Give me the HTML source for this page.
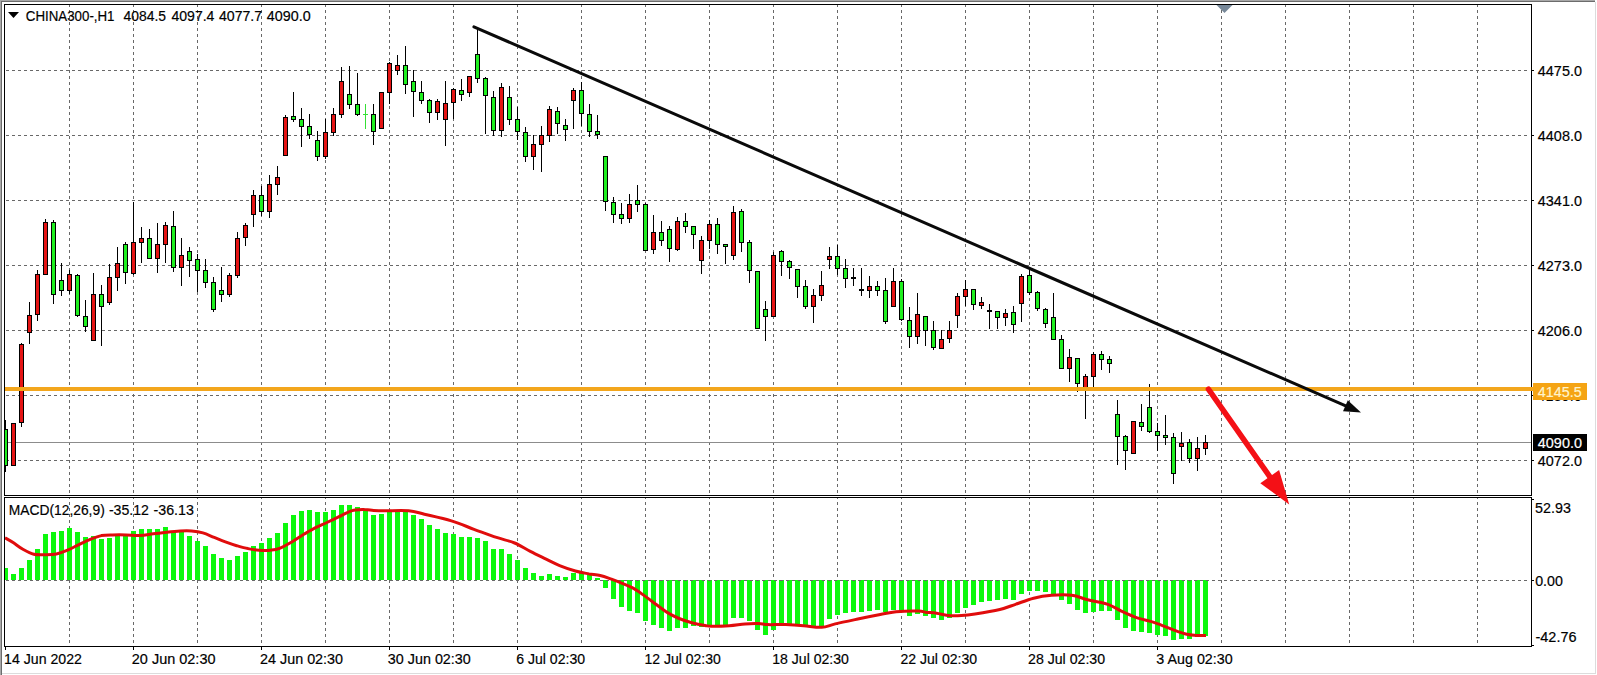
<!DOCTYPE html>
<html lang="en"><head><meta charset="utf-8"><title>CHINA300-,H1</title><style>html,body{margin:0;padding:0;background:#fff;overflow:hidden}svg text{white-space:pre}</style></head><body>
<svg width="1597" height="675" viewBox="0 0 1597 675" style="display:block">
<rect width="1597" height="675" fill="#fff"/>
<g shape-rendering="crispEdges">
<rect x="0" y="0" width="1595" height="1" fill="#a8a8a8"/>
<rect x="0" y="1" width="1595" height="1" fill="#6c6c6c"/>
<rect x="0" y="0" width="1" height="675" fill="#a8a8a8"/>
<rect x="1" y="1" width="1" height="675" fill="#6c6c6c"/>
<rect x="1595" y="2" width="1" height="672" fill="#dcdcdc"/>
<rect x="2" y="673" width="1594" height="1" fill="#dcdcdc"/>
<defs><clipPath id="cm"><rect x="5" y="5" width="1525" height="490"/></clipPath><clipPath id="cd"><rect x="5" y="498" width="1525" height="148"/></clipPath><clipPath id="call"><rect x="5" y="5" width="1526" height="641"/></clipPath></defs>
<g stroke="#686868" stroke-width="1" stroke-dasharray="3 3" fill="none">
<g clip-path="url(#cm)">
<line x1="69.5" y1="4" x2="69.5" y2="496"/>
<line x1="133.5" y1="4" x2="133.5" y2="496"/>
<line x1="197.5" y1="4" x2="197.5" y2="496"/>
<line x1="261.5" y1="4" x2="261.5" y2="496"/>
<line x1="325.5" y1="4" x2="325.5" y2="496"/>
<line x1="389.5" y1="4" x2="389.5" y2="496"/>
<line x1="453.5" y1="4" x2="453.5" y2="496"/>
<line x1="517.5" y1="4" x2="517.5" y2="496"/>
<line x1="581.5" y1="4" x2="581.5" y2="496"/>
<line x1="645.5" y1="4" x2="645.5" y2="496"/>
<line x1="709.5" y1="4" x2="709.5" y2="496"/>
<line x1="773.5" y1="4" x2="773.5" y2="496"/>
<line x1="837.5" y1="4" x2="837.5" y2="496"/>
<line x1="901.5" y1="4" x2="901.5" y2="496"/>
<line x1="965.5" y1="4" x2="965.5" y2="496"/>
<line x1="1029.5" y1="4" x2="1029.5" y2="496"/>
<line x1="1093.5" y1="4" x2="1093.5" y2="496"/>
<line x1="1157.5" y1="4" x2="1157.5" y2="496"/>
<line x1="1221.5" y1="4" x2="1221.5" y2="496"/>
<line x1="1285.5" y1="4" x2="1285.5" y2="496"/>
<line x1="1349.5" y1="4" x2="1349.5" y2="496"/>
<line x1="1413.5" y1="4" x2="1413.5" y2="496"/>
<line x1="1477.5" y1="4" x2="1477.5" y2="496"/>
<line x1="0" y1="70.5" x2="1532" y2="70.5"/>
<line x1="0" y1="135.5" x2="1532" y2="135.5"/>
<line x1="0" y1="200.5" x2="1532" y2="200.5"/>
<line x1="0" y1="265.5" x2="1532" y2="265.5"/>
<line x1="0" y1="330.5" x2="1532" y2="330.5"/>
<line x1="0" y1="395.5" x2="1532" y2="395.5"/>
<line x1="0" y1="460.5" x2="1532" y2="460.5"/>
</g><g clip-path="url(#cd)">
<line x1="69.5" y1="4" x2="69.5" y2="646"/>
<line x1="133.5" y1="4" x2="133.5" y2="646"/>
<line x1="197.5" y1="4" x2="197.5" y2="646"/>
<line x1="261.5" y1="4" x2="261.5" y2="646"/>
<line x1="325.5" y1="4" x2="325.5" y2="646"/>
<line x1="389.5" y1="4" x2="389.5" y2="646"/>
<line x1="453.5" y1="4" x2="453.5" y2="646"/>
<line x1="517.5" y1="4" x2="517.5" y2="646"/>
<line x1="581.5" y1="4" x2="581.5" y2="646"/>
<line x1="645.5" y1="4" x2="645.5" y2="646"/>
<line x1="709.5" y1="4" x2="709.5" y2="646"/>
<line x1="773.5" y1="4" x2="773.5" y2="646"/>
<line x1="837.5" y1="4" x2="837.5" y2="646"/>
<line x1="901.5" y1="4" x2="901.5" y2="646"/>
<line x1="965.5" y1="4" x2="965.5" y2="646"/>
<line x1="1029.5" y1="4" x2="1029.5" y2="646"/>
<line x1="1093.5" y1="4" x2="1093.5" y2="646"/>
<line x1="1157.5" y1="4" x2="1157.5" y2="646"/>
<line x1="1221.5" y1="4" x2="1221.5" y2="646"/>
<line x1="1285.5" y1="4" x2="1285.5" y2="646"/>
<line x1="1349.5" y1="4" x2="1349.5" y2="646"/>
<line x1="1413.5" y1="4" x2="1413.5" y2="646"/>
<line x1="1477.5" y1="4" x2="1477.5" y2="646"/>
<line x1="0" y1="580.5" x2="1532" y2="580.5"/>
</g></g>
<rect x="5" y="442" width="1527" height="1" fill="#8c8c8c"/>
<g clip-path="url(#cm)">
<rect x="5" y="420" width="1" height="52" fill="#000"/>
<rect x="3" y="429" width="5" height="37" fill="#000"/>
<rect x="4" y="430" width="3" height="35" fill="#1fef1f"/>
<rect x="13" y="423" width="1" height="43" fill="#000"/>
<rect x="11" y="423" width="5" height="43" fill="#000"/>
<rect x="12" y="424" width="3" height="41" fill="#e51414"/>
<rect x="21" y="343" width="1" height="84" fill="#000"/>
<rect x="19" y="344" width="5" height="79" fill="#000"/>
<rect x="20" y="345" width="3" height="77" fill="#e51414"/>
<rect x="29" y="302" width="1" height="42" fill="#000"/>
<rect x="27" y="315" width="5" height="18" fill="#000"/>
<rect x="28" y="316" width="3" height="16" fill="#e51414"/>
<rect x="37" y="270" width="1" height="51" fill="#000"/>
<rect x="35" y="274" width="5" height="41" fill="#000"/>
<rect x="36" y="275" width="3" height="39" fill="#e51414"/>
<rect x="45" y="219" width="1" height="56" fill="#000"/>
<rect x="43" y="222" width="5" height="53" fill="#000"/>
<rect x="44" y="223" width="3" height="51" fill="#e51414"/>
<rect x="53" y="220" width="1" height="84" fill="#000"/>
<rect x="51" y="222" width="5" height="73" fill="#000"/>
<rect x="52" y="223" width="3" height="71" fill="#1fef1f"/>
<rect x="61" y="263" width="1" height="33" fill="#000"/>
<rect x="59" y="280" width="5" height="11" fill="#000"/>
<rect x="60" y="281" width="3" height="9" fill="#1fef1f"/>
<rect x="69" y="270" width="1" height="24" fill="#000"/>
<rect x="67" y="274" width="5" height="17" fill="#000"/>
<rect x="68" y="275" width="3" height="15" fill="#e51414"/>
<rect x="77" y="274" width="1" height="43" fill="#000"/>
<rect x="75" y="275" width="5" height="41" fill="#000"/>
<rect x="76" y="276" width="3" height="39" fill="#1fef1f"/>
<rect x="85" y="300" width="1" height="32" fill="#000"/>
<rect x="83" y="316" width="5" height="11" fill="#000"/>
<rect x="84" y="317" width="3" height="9" fill="#1fef1f"/>
<rect x="93" y="273" width="1" height="68" fill="#000"/>
<rect x="91" y="294" width="5" height="47" fill="#000"/>
<rect x="92" y="295" width="3" height="45" fill="#e51414"/>
<rect x="101" y="285" width="1" height="61" fill="#000"/>
<rect x="99" y="294" width="5" height="13" fill="#000"/>
<rect x="100" y="295" width="3" height="11" fill="#1fef1f"/>
<rect x="109" y="264" width="1" height="41" fill="#000"/>
<rect x="107" y="277" width="5" height="26" fill="#000"/>
<rect x="108" y="278" width="3" height="24" fill="#e51414"/>
<rect x="117" y="247" width="1" height="44" fill="#000"/>
<rect x="115" y="263" width="5" height="15" fill="#000"/>
<rect x="116" y="264" width="3" height="13" fill="#e51414"/>
<rect x="125" y="242" width="1" height="42" fill="#000"/>
<rect x="123" y="244" width="5" height="29" fill="#000"/>
<rect x="124" y="245" width="3" height="27" fill="#1fef1f"/>
<rect x="133" y="202" width="1" height="73" fill="#000"/>
<rect x="131" y="242" width="5" height="32" fill="#000"/>
<rect x="132" y="243" width="3" height="30" fill="#e51414"/>
<rect x="141" y="227" width="1" height="36" fill="#000"/>
<rect x="139" y="238" width="5" height="5" fill="#000"/>
<rect x="140" y="239" width="3" height="3" fill="#e51414"/>
<rect x="149" y="229" width="1" height="30" fill="#000"/>
<rect x="147" y="238" width="5" height="21" fill="#000"/>
<rect x="148" y="239" width="3" height="19" fill="#1fef1f"/>
<rect x="157" y="223" width="1" height="50" fill="#000"/>
<rect x="155" y="244" width="5" height="15" fill="#000"/>
<rect x="156" y="245" width="3" height="13" fill="#e51414"/>
<rect x="165" y="222" width="1" height="41" fill="#000"/>
<rect x="163" y="225" width="5" height="20" fill="#000"/>
<rect x="164" y="226" width="3" height="18" fill="#e51414"/>
<rect x="173" y="211" width="1" height="61" fill="#000"/>
<rect x="171" y="226" width="5" height="42" fill="#000"/>
<rect x="172" y="227" width="3" height="40" fill="#1fef1f"/>
<rect x="181" y="238" width="1" height="48" fill="#000"/>
<rect x="179" y="255" width="5" height="13" fill="#000"/>
<rect x="180" y="256" width="3" height="11" fill="#e51414"/>
<rect x="189" y="247" width="1" height="30" fill="#000"/>
<rect x="187" y="251" width="5" height="10" fill="#000"/>
<rect x="188" y="252" width="3" height="8" fill="#1fef1f"/>
<rect x="197" y="254" width="1" height="38" fill="#000"/>
<rect x="195" y="259" width="5" height="12" fill="#000"/>
<rect x="196" y="260" width="3" height="10" fill="#1fef1f"/>
<rect x="205" y="259" width="1" height="29" fill="#000"/>
<rect x="203" y="270" width="5" height="13" fill="#000"/>
<rect x="204" y="271" width="3" height="11" fill="#1fef1f"/>
<rect x="213" y="277" width="1" height="35" fill="#000"/>
<rect x="211" y="282" width="5" height="28" fill="#000"/>
<rect x="212" y="283" width="3" height="26" fill="#1fef1f"/>
<rect x="221" y="267" width="1" height="35" fill="#000"/>
<rect x="219" y="290" width="5" height="5" fill="#000"/>
<rect x="220" y="291" width="3" height="3" fill="#1fef1f"/>
<rect x="229" y="273" width="1" height="24" fill="#000"/>
<rect x="227" y="275" width="5" height="20" fill="#000"/>
<rect x="228" y="276" width="3" height="18" fill="#e51414"/>
<rect x="237" y="232" width="1" height="46" fill="#000"/>
<rect x="235" y="238" width="5" height="38" fill="#000"/>
<rect x="236" y="239" width="3" height="36" fill="#e51414"/>
<rect x="245" y="223" width="1" height="23" fill="#000"/>
<rect x="243" y="225" width="5" height="13" fill="#000"/>
<rect x="244" y="226" width="3" height="11" fill="#e51414"/>
<rect x="253" y="190" width="1" height="37" fill="#000"/>
<rect x="251" y="195" width="5" height="20" fill="#000"/>
<rect x="252" y="196" width="3" height="18" fill="#e51414"/>
<rect x="261" y="186" width="1" height="30" fill="#000"/>
<rect x="259" y="195" width="5" height="17" fill="#000"/>
<rect x="260" y="196" width="3" height="15" fill="#1fef1f"/>
<rect x="269" y="175" width="1" height="43" fill="#000"/>
<rect x="267" y="184" width="5" height="28" fill="#000"/>
<rect x="268" y="185" width="3" height="26" fill="#e51414"/>
<rect x="277" y="166" width="1" height="29" fill="#000"/>
<rect x="275" y="177" width="5" height="8" fill="#000"/>
<rect x="276" y="178" width="3" height="6" fill="#e51414"/>
<rect x="285" y="115" width="1" height="41" fill="#000"/>
<rect x="283" y="117" width="5" height="39" fill="#000"/>
<rect x="284" y="118" width="3" height="37" fill="#e51414"/>
<rect x="293" y="92" width="1" height="30" fill="#000"/>
<rect x="291" y="116" width="5" height="4" fill="#000"/>
<rect x="292" y="117" width="3" height="2" fill="#1fef1f"/>
<rect x="301" y="108" width="1" height="39" fill="#000"/>
<rect x="299" y="119" width="5" height="8" fill="#000"/>
<rect x="300" y="120" width="3" height="6" fill="#1fef1f"/>
<rect x="309" y="114" width="1" height="25" fill="#000"/>
<rect x="307" y="126" width="5" height="9" fill="#000"/>
<rect x="308" y="127" width="3" height="7" fill="#1fef1f"/>
<rect x="317" y="131" width="1" height="30" fill="#000"/>
<rect x="315" y="140" width="5" height="17" fill="#000"/>
<rect x="316" y="141" width="3" height="15" fill="#1fef1f"/>
<rect x="325" y="119" width="1" height="40" fill="#000"/>
<rect x="323" y="132" width="5" height="25" fill="#000"/>
<rect x="324" y="133" width="3" height="23" fill="#e51414"/>
<rect x="333" y="108" width="1" height="28" fill="#000"/>
<rect x="331" y="114" width="5" height="19" fill="#000"/>
<rect x="332" y="115" width="3" height="17" fill="#e51414"/>
<rect x="341" y="67" width="1" height="51" fill="#000"/>
<rect x="339" y="81" width="5" height="34" fill="#000"/>
<rect x="340" y="82" width="3" height="32" fill="#e51414"/>
<rect x="349" y="66" width="1" height="43" fill="#000"/>
<rect x="347" y="94" width="5" height="11" fill="#000"/>
<rect x="348" y="95" width="3" height="9" fill="#1fef1f"/>
<rect x="357" y="73" width="1" height="43" fill="#000"/>
<rect x="355" y="104" width="5" height="11" fill="#000"/>
<rect x="356" y="105" width="3" height="9" fill="#1fef1f"/>
<rect x="365" y="104" width="1" height="25" fill="#35e035"/>
<rect x="363" y="114" width="5" height="1" fill="#35e035"/>
<rect x="373" y="104" width="1" height="41" fill="#000"/>
<rect x="371" y="114" width="5" height="18" fill="#000"/>
<rect x="372" y="115" width="3" height="16" fill="#1fef1f"/>
<rect x="381" y="92" width="1" height="37" fill="#000"/>
<rect x="379" y="92" width="5" height="37" fill="#000"/>
<rect x="380" y="93" width="3" height="35" fill="#e51414"/>
<rect x="389" y="62" width="1" height="42" fill="#000"/>
<rect x="387" y="63" width="5" height="30" fill="#000"/>
<rect x="388" y="64" width="3" height="28" fill="#e51414"/>
<rect x="397" y="55" width="1" height="20" fill="#000"/>
<rect x="395" y="65" width="5" height="6" fill="#000"/>
<rect x="396" y="66" width="3" height="4" fill="#e51414"/>
<rect x="405" y="46" width="1" height="48" fill="#000"/>
<rect x="403" y="65" width="5" height="20" fill="#000"/>
<rect x="404" y="66" width="3" height="18" fill="#1fef1f"/>
<rect x="413" y="70" width="1" height="47" fill="#000"/>
<rect x="411" y="81" width="5" height="11" fill="#000"/>
<rect x="412" y="82" width="3" height="9" fill="#1fef1f"/>
<rect x="421" y="81" width="1" height="23" fill="#000"/>
<rect x="419" y="92" width="5" height="9" fill="#000"/>
<rect x="420" y="93" width="3" height="7" fill="#1fef1f"/>
<rect x="429" y="99" width="1" height="24" fill="#000"/>
<rect x="427" y="100" width="5" height="13" fill="#000"/>
<rect x="428" y="101" width="3" height="11" fill="#1fef1f"/>
<rect x="437" y="99" width="1" height="21" fill="#000"/>
<rect x="435" y="101" width="5" height="12" fill="#000"/>
<rect x="436" y="102" width="3" height="10" fill="#e51414"/>
<rect x="445" y="81" width="1" height="65" fill="#000"/>
<rect x="443" y="103" width="5" height="17" fill="#000"/>
<rect x="444" y="104" width="3" height="15" fill="#e51414"/>
<rect x="453" y="88" width="1" height="31" fill="#000"/>
<rect x="451" y="89" width="5" height="14" fill="#000"/>
<rect x="452" y="90" width="3" height="12" fill="#e51414"/>
<rect x="461" y="79" width="1" height="22" fill="#000"/>
<rect x="459" y="90" width="5" height="5" fill="#000"/>
<rect x="460" y="91" width="3" height="3" fill="#1fef1f"/>
<rect x="469" y="76" width="1" height="21" fill="#000"/>
<rect x="467" y="76" width="5" height="17" fill="#000"/>
<rect x="468" y="77" width="3" height="15" fill="#e51414"/>
<rect x="477" y="28" width="1" height="55" fill="#000"/>
<rect x="475" y="54" width="5" height="25" fill="#000"/>
<rect x="476" y="55" width="3" height="23" fill="#1fef1f"/>
<rect x="485" y="77" width="1" height="57" fill="#000"/>
<rect x="483" y="78" width="5" height="18" fill="#000"/>
<rect x="484" y="79" width="3" height="16" fill="#1fef1f"/>
<rect x="493" y="91" width="1" height="45" fill="#000"/>
<rect x="491" y="97" width="5" height="34" fill="#000"/>
<rect x="492" y="98" width="3" height="32" fill="#1fef1f"/>
<rect x="501" y="83" width="1" height="54" fill="#000"/>
<rect x="499" y="87" width="5" height="44" fill="#000"/>
<rect x="500" y="88" width="3" height="42" fill="#e51414"/>
<rect x="509" y="86" width="1" height="39" fill="#000"/>
<rect x="507" y="97" width="5" height="23" fill="#000"/>
<rect x="508" y="98" width="3" height="21" fill="#1fef1f"/>
<rect x="517" y="107" width="1" height="33" fill="#000"/>
<rect x="515" y="119" width="5" height="13" fill="#000"/>
<rect x="516" y="120" width="3" height="11" fill="#1fef1f"/>
<rect x="525" y="127" width="1" height="35" fill="#000"/>
<rect x="523" y="132" width="5" height="25" fill="#000"/>
<rect x="524" y="133" width="3" height="23" fill="#1fef1f"/>
<rect x="533" y="135" width="1" height="35" fill="#000"/>
<rect x="531" y="144" width="5" height="13" fill="#000"/>
<rect x="532" y="145" width="3" height="11" fill="#e51414"/>
<rect x="541" y="126" width="1" height="46" fill="#000"/>
<rect x="539" y="135" width="5" height="10" fill="#000"/>
<rect x="540" y="136" width="3" height="8" fill="#e51414"/>
<rect x="549" y="106" width="1" height="36" fill="#000"/>
<rect x="547" y="109" width="5" height="27" fill="#000"/>
<rect x="548" y="110" width="3" height="25" fill="#e51414"/>
<rect x="557" y="107" width="1" height="27" fill="#000"/>
<rect x="555" y="111" width="5" height="13" fill="#000"/>
<rect x="556" y="112" width="3" height="11" fill="#1fef1f"/>
<rect x="565" y="119" width="1" height="22" fill="#000"/>
<rect x="563" y="125" width="5" height="5" fill="#000"/>
<rect x="564" y="126" width="3" height="3" fill="#1fef1f"/>
<rect x="573" y="88" width="1" height="41" fill="#000"/>
<rect x="571" y="90" width="5" height="11" fill="#000"/>
<rect x="572" y="91" width="3" height="9" fill="#e51414"/>
<rect x="581" y="82" width="1" height="44" fill="#000"/>
<rect x="579" y="90" width="5" height="24" fill="#000"/>
<rect x="580" y="91" width="3" height="22" fill="#1fef1f"/>
<rect x="589" y="104" width="1" height="33" fill="#000"/>
<rect x="587" y="114" width="5" height="18" fill="#000"/>
<rect x="588" y="115" width="3" height="16" fill="#1fef1f"/>
<rect x="597" y="115" width="1" height="24" fill="#000"/>
<rect x="595" y="131" width="5" height="4" fill="#000"/>
<rect x="596" y="132" width="3" height="2" fill="#1fef1f"/>
<rect x="605" y="156" width="1" height="55" fill="#000"/>
<rect x="603" y="156" width="5" height="46" fill="#000"/>
<rect x="604" y="157" width="3" height="44" fill="#1fef1f"/>
<rect x="613" y="197" width="1" height="26" fill="#000"/>
<rect x="611" y="202" width="5" height="13" fill="#000"/>
<rect x="612" y="203" width="3" height="11" fill="#1fef1f"/>
<rect x="621" y="203" width="1" height="21" fill="#000"/>
<rect x="619" y="214" width="5" height="5" fill="#000"/>
<rect x="620" y="215" width="3" height="3" fill="#1fef1f"/>
<rect x="629" y="194" width="1" height="29" fill="#000"/>
<rect x="627" y="204" width="5" height="15" fill="#000"/>
<rect x="628" y="205" width="3" height="13" fill="#e51414"/>
<rect x="637" y="185" width="1" height="27" fill="#000"/>
<rect x="635" y="200" width="5" height="5" fill="#000"/>
<rect x="636" y="201" width="3" height="3" fill="#1fef1f"/>
<rect x="645" y="203" width="1" height="48" fill="#000"/>
<rect x="643" y="204" width="5" height="47" fill="#000"/>
<rect x="644" y="205" width="3" height="45" fill="#1fef1f"/>
<rect x="653" y="215" width="1" height="39" fill="#000"/>
<rect x="651" y="232" width="5" height="18" fill="#000"/>
<rect x="652" y="233" width="3" height="16" fill="#e51414"/>
<rect x="661" y="221" width="1" height="25" fill="#000"/>
<rect x="659" y="232" width="5" height="9" fill="#000"/>
<rect x="660" y="233" width="3" height="7" fill="#1fef1f"/>
<rect x="669" y="226" width="1" height="36" fill="#000"/>
<rect x="667" y="229" width="5" height="20" fill="#000"/>
<rect x="668" y="230" width="3" height="18" fill="#1fef1f"/>
<rect x="677" y="217" width="1" height="34" fill="#000"/>
<rect x="675" y="221" width="5" height="29" fill="#000"/>
<rect x="676" y="222" width="3" height="27" fill="#e51414"/>
<rect x="685" y="213" width="1" height="20" fill="#000"/>
<rect x="683" y="221" width="5" height="6" fill="#000"/>
<rect x="684" y="222" width="3" height="4" fill="#1fef1f"/>
<rect x="693" y="226" width="1" height="23" fill="#000"/>
<rect x="691" y="226" width="5" height="9" fill="#000"/>
<rect x="692" y="227" width="3" height="7" fill="#1fef1f"/>
<rect x="701" y="236" width="1" height="38" fill="#000"/>
<rect x="699" y="240" width="5" height="21" fill="#000"/>
<rect x="700" y="241" width="3" height="19" fill="#e51414"/>
<rect x="709" y="220" width="1" height="29" fill="#000"/>
<rect x="707" y="224" width="5" height="17" fill="#000"/>
<rect x="708" y="225" width="3" height="15" fill="#e51414"/>
<rect x="717" y="218" width="1" height="36" fill="#000"/>
<rect x="715" y="224" width="5" height="21" fill="#000"/>
<rect x="716" y="225" width="3" height="19" fill="#1fef1f"/>
<rect x="725" y="244" width="1" height="20" fill="#000"/>
<rect x="723" y="244" width="5" height="3" fill="#000"/>
<rect x="724" y="245" width="3" height="1" fill="#1fef1f"/>
<rect x="733" y="206" width="1" height="54" fill="#000"/>
<rect x="731" y="212" width="5" height="44" fill="#000"/>
<rect x="732" y="213" width="3" height="42" fill="#e51414"/>
<rect x="741" y="209" width="1" height="43" fill="#000"/>
<rect x="739" y="211" width="5" height="32" fill="#000"/>
<rect x="740" y="212" width="3" height="30" fill="#1fef1f"/>
<rect x="749" y="240" width="1" height="43" fill="#000"/>
<rect x="747" y="242" width="5" height="29" fill="#000"/>
<rect x="748" y="243" width="3" height="27" fill="#1fef1f"/>
<rect x="757" y="271" width="1" height="58" fill="#000"/>
<rect x="755" y="271" width="5" height="58" fill="#000"/>
<rect x="756" y="272" width="3" height="56" fill="#1fef1f"/>
<rect x="765" y="301" width="1" height="40" fill="#000"/>
<rect x="763" y="309" width="5" height="8" fill="#000"/>
<rect x="764" y="310" width="3" height="6" fill="#1fef1f"/>
<rect x="773" y="252" width="1" height="65" fill="#000"/>
<rect x="771" y="255" width="5" height="62" fill="#000"/>
<rect x="772" y="256" width="3" height="60" fill="#e51414"/>
<rect x="781" y="250" width="1" height="26" fill="#000"/>
<rect x="779" y="251" width="5" height="11" fill="#000"/>
<rect x="780" y="252" width="3" height="9" fill="#1fef1f"/>
<rect x="789" y="260" width="1" height="19" fill="#000"/>
<rect x="787" y="261" width="5" height="7" fill="#000"/>
<rect x="788" y="262" width="3" height="5" fill="#1fef1f"/>
<rect x="797" y="269" width="1" height="29" fill="#000"/>
<rect x="795" y="269" width="5" height="18" fill="#000"/>
<rect x="796" y="270" width="3" height="16" fill="#1fef1f"/>
<rect x="805" y="280" width="1" height="29" fill="#000"/>
<rect x="803" y="286" width="5" height="21" fill="#000"/>
<rect x="804" y="287" width="3" height="19" fill="#1fef1f"/>
<rect x="813" y="289" width="1" height="34" fill="#000"/>
<rect x="811" y="295" width="5" height="12" fill="#000"/>
<rect x="812" y="296" width="3" height="10" fill="#e51414"/>
<rect x="821" y="271" width="1" height="30" fill="#000"/>
<rect x="819" y="285" width="5" height="11" fill="#000"/>
<rect x="820" y="286" width="3" height="9" fill="#e51414"/>
<rect x="829" y="247" width="1" height="22" fill="#000"/>
<rect x="827" y="256" width="5" height="4" fill="#000"/>
<rect x="828" y="257" width="3" height="2" fill="#e51414"/>
<rect x="837" y="245" width="1" height="30" fill="#000"/>
<rect x="835" y="256" width="5" height="13" fill="#000"/>
<rect x="836" y="257" width="3" height="11" fill="#1fef1f"/>
<rect x="845" y="259" width="1" height="29" fill="#000"/>
<rect x="843" y="268" width="5" height="11" fill="#000"/>
<rect x="844" y="269" width="3" height="9" fill="#1fef1f"/>
<rect x="853" y="268" width="1" height="18" fill="#000"/>
<rect x="851" y="277" width="5" height="2" fill="#000"/>
<rect x="861" y="268" width="1" height="28" fill="#000"/>
<rect x="859" y="289" width="5" height="2" fill="#000"/>
<rect x="869" y="276" width="1" height="22" fill="#000"/>
<rect x="867" y="286" width="5" height="5" fill="#000"/>
<rect x="868" y="287" width="3" height="3" fill="#e51414"/>
<rect x="877" y="281" width="1" height="15" fill="#000"/>
<rect x="875" y="286" width="5" height="5" fill="#000"/>
<rect x="876" y="287" width="3" height="3" fill="#1fef1f"/>
<rect x="885" y="278" width="1" height="46" fill="#000"/>
<rect x="883" y="290" width="5" height="32" fill="#000"/>
<rect x="884" y="291" width="3" height="30" fill="#1fef1f"/>
<rect x="893" y="268" width="1" height="39" fill="#000"/>
<rect x="891" y="281" width="5" height="26" fill="#000"/>
<rect x="892" y="282" width="3" height="24" fill="#e51414"/>
<rect x="901" y="279" width="1" height="42" fill="#000"/>
<rect x="899" y="281" width="5" height="39" fill="#000"/>
<rect x="900" y="282" width="3" height="37" fill="#1fef1f"/>
<rect x="909" y="307" width="1" height="41" fill="#000"/>
<rect x="907" y="320" width="5" height="17" fill="#000"/>
<rect x="908" y="321" width="3" height="15" fill="#1fef1f"/>
<rect x="917" y="293" width="1" height="51" fill="#000"/>
<rect x="915" y="314" width="5" height="23" fill="#000"/>
<rect x="916" y="315" width="3" height="21" fill="#e51414"/>
<rect x="925" y="316" width="1" height="30" fill="#000"/>
<rect x="923" y="316" width="5" height="15" fill="#000"/>
<rect x="924" y="317" width="3" height="13" fill="#1fef1f"/>
<rect x="933" y="321" width="1" height="29" fill="#000"/>
<rect x="931" y="330" width="5" height="18" fill="#000"/>
<rect x="932" y="331" width="3" height="16" fill="#1fef1f"/>
<rect x="941" y="330" width="1" height="19" fill="#000"/>
<rect x="939" y="339" width="5" height="10" fill="#000"/>
<rect x="940" y="340" width="3" height="8" fill="#e51414"/>
<rect x="949" y="321" width="1" height="22" fill="#000"/>
<rect x="947" y="330" width="5" height="9" fill="#000"/>
<rect x="948" y="331" width="3" height="7" fill="#e51414"/>
<rect x="957" y="293" width="1" height="35" fill="#000"/>
<rect x="955" y="296" width="5" height="20" fill="#000"/>
<rect x="956" y="297" width="3" height="18" fill="#e51414"/>
<rect x="965" y="280" width="1" height="26" fill="#000"/>
<rect x="963" y="289" width="5" height="8" fill="#000"/>
<rect x="964" y="290" width="3" height="6" fill="#e51414"/>
<rect x="973" y="289" width="1" height="21" fill="#000"/>
<rect x="971" y="289" width="5" height="16" fill="#000"/>
<rect x="972" y="290" width="3" height="14" fill="#1fef1f"/>
<rect x="981" y="297" width="1" height="12" fill="#000"/>
<rect x="979" y="302" width="5" height="4" fill="#000"/>
<rect x="980" y="303" width="3" height="2" fill="#e51414"/>
<rect x="989" y="304" width="1" height="25" fill="#000"/>
<rect x="987" y="310" width="5" height="2" fill="#000"/>
<rect x="997" y="311" width="1" height="18" fill="#000"/>
<rect x="995" y="311" width="5" height="7" fill="#000"/>
<rect x="996" y="312" width="3" height="5" fill="#1fef1f"/>
<rect x="1005" y="309" width="1" height="17" fill="#000"/>
<rect x="1003" y="313" width="5" height="5" fill="#000"/>
<rect x="1004" y="314" width="3" height="3" fill="#e51414"/>
<rect x="1013" y="306" width="1" height="27" fill="#000"/>
<rect x="1011" y="312" width="5" height="13" fill="#000"/>
<rect x="1012" y="313" width="3" height="11" fill="#1fef1f"/>
<rect x="1021" y="274" width="1" height="48" fill="#000"/>
<rect x="1019" y="276" width="5" height="28" fill="#000"/>
<rect x="1020" y="277" width="3" height="26" fill="#e51414"/>
<rect x="1029" y="268" width="1" height="27" fill="#000"/>
<rect x="1027" y="275" width="5" height="18" fill="#000"/>
<rect x="1028" y="276" width="3" height="16" fill="#1fef1f"/>
<rect x="1037" y="291" width="1" height="20" fill="#000"/>
<rect x="1035" y="292" width="5" height="17" fill="#000"/>
<rect x="1036" y="293" width="3" height="15" fill="#1fef1f"/>
<rect x="1045" y="308" width="1" height="20" fill="#000"/>
<rect x="1043" y="309" width="5" height="15" fill="#000"/>
<rect x="1044" y="310" width="3" height="13" fill="#1fef1f"/>
<rect x="1053" y="293" width="1" height="47" fill="#000"/>
<rect x="1051" y="317" width="5" height="23" fill="#000"/>
<rect x="1052" y="318" width="3" height="21" fill="#1fef1f"/>
<rect x="1061" y="335" width="1" height="34" fill="#000"/>
<rect x="1059" y="339" width="5" height="30" fill="#000"/>
<rect x="1060" y="340" width="3" height="28" fill="#1fef1f"/>
<rect x="1069" y="349" width="1" height="33" fill="#000"/>
<rect x="1067" y="357" width="5" height="12" fill="#000"/>
<rect x="1068" y="358" width="3" height="10" fill="#e51414"/>
<rect x="1077" y="358" width="1" height="34" fill="#000"/>
<rect x="1075" y="358" width="5" height="26" fill="#000"/>
<rect x="1076" y="359" width="3" height="24" fill="#1fef1f"/>
<rect x="1085" y="374" width="1" height="45" fill="#000"/>
<rect x="1083" y="376" width="5" height="12" fill="#000"/>
<rect x="1084" y="377" width="3" height="10" fill="#e51414"/>
<rect x="1093" y="352" width="1" height="35" fill="#000"/>
<rect x="1091" y="354" width="5" height="23" fill="#000"/>
<rect x="1092" y="355" width="3" height="21" fill="#e51414"/>
<rect x="1101" y="351" width="1" height="19" fill="#000"/>
<rect x="1099" y="354" width="5" height="6" fill="#000"/>
<rect x="1100" y="355" width="3" height="4" fill="#1fef1f"/>
<rect x="1109" y="356" width="1" height="17" fill="#000"/>
<rect x="1107" y="359" width="5" height="5" fill="#000"/>
<rect x="1108" y="360" width="3" height="3" fill="#1fef1f"/>
<rect x="1117" y="400" width="1" height="65" fill="#000"/>
<rect x="1115" y="414" width="5" height="23" fill="#000"/>
<rect x="1116" y="415" width="3" height="21" fill="#1fef1f"/>
<rect x="1125" y="435" width="1" height="35" fill="#000"/>
<rect x="1123" y="436" width="5" height="15" fill="#000"/>
<rect x="1124" y="437" width="3" height="13" fill="#1fef1f"/>
<rect x="1133" y="421" width="1" height="33" fill="#000"/>
<rect x="1131" y="421" width="5" height="33" fill="#000"/>
<rect x="1132" y="422" width="3" height="31" fill="#e51414"/>
<rect x="1141" y="404" width="1" height="27" fill="#000"/>
<rect x="1139" y="422" width="5" height="5" fill="#000"/>
<rect x="1140" y="423" width="3" height="3" fill="#1fef1f"/>
<rect x="1149" y="384" width="1" height="49" fill="#000"/>
<rect x="1147" y="407" width="5" height="25" fill="#000"/>
<rect x="1148" y="408" width="3" height="23" fill="#1fef1f"/>
<rect x="1157" y="423" width="1" height="28" fill="#000"/>
<rect x="1155" y="431" width="5" height="5" fill="#000"/>
<rect x="1156" y="432" width="3" height="3" fill="#1fef1f"/>
<rect x="1165" y="415" width="1" height="30" fill="#000"/>
<rect x="1163" y="435" width="5" height="3" fill="#000"/>
<rect x="1164" y="436" width="3" height="1" fill="#1fef1f"/>
<rect x="1173" y="433" width="1" height="51" fill="#000"/>
<rect x="1171" y="437" width="5" height="37" fill="#000"/>
<rect x="1172" y="438" width="3" height="35" fill="#1fef1f"/>
<rect x="1181" y="432" width="1" height="29" fill="#000"/>
<rect x="1179" y="443" width="5" height="4" fill="#000"/>
<rect x="1180" y="444" width="3" height="2" fill="#e51414"/>
<rect x="1189" y="439" width="1" height="24" fill="#000"/>
<rect x="1187" y="442" width="5" height="17" fill="#000"/>
<rect x="1188" y="443" width="3" height="15" fill="#1fef1f"/>
<rect x="1197" y="437" width="1" height="34" fill="#000"/>
<rect x="1195" y="448" width="5" height="11" fill="#000"/>
<rect x="1196" y="449" width="3" height="9" fill="#e51414"/>
<rect x="1205" y="435" width="1" height="20" fill="#000"/>
<rect x="1203" y="442" width="5" height="7" fill="#000"/>
<rect x="1204" y="443" width="3" height="5" fill="#e51414"/>
</g>
<rect x="5" y="387" width="1526" height="4" fill="#f3a61c"/>
<g clip-path="url(#cd)">
<rect x="3" y="568" width="5" height="12" fill="#0cf80c"/>
<rect x="11" y="574" width="5" height="6" fill="#0cf80c"/>
<rect x="19" y="568" width="5" height="12" fill="#0cf80c"/>
<rect x="27" y="560" width="5" height="20" fill="#0cf80c"/>
<rect x="35" y="549" width="5" height="31" fill="#0cf80c"/>
<rect x="43" y="534" width="5" height="46" fill="#0cf80c"/>
<rect x="51" y="532" width="5" height="48" fill="#0cf80c"/>
<rect x="59" y="531" width="5" height="49" fill="#0cf80c"/>
<rect x="67" y="528" width="5" height="52" fill="#0cf80c"/>
<rect x="75" y="532" width="5" height="48" fill="#0cf80c"/>
<rect x="83" y="537" width="5" height="43" fill="#0cf80c"/>
<rect x="91" y="536" width="5" height="44" fill="#0cf80c"/>
<rect x="99" y="539" width="5" height="41" fill="#0cf80c"/>
<rect x="107" y="538" width="5" height="42" fill="#0cf80c"/>
<rect x="115" y="535" width="5" height="45" fill="#0cf80c"/>
<rect x="123" y="534" width="5" height="46" fill="#0cf80c"/>
<rect x="131" y="531" width="5" height="49" fill="#0cf80c"/>
<rect x="139" y="529" width="5" height="51" fill="#0cf80c"/>
<rect x="147" y="529" width="5" height="51" fill="#0cf80c"/>
<rect x="155" y="529" width="5" height="51" fill="#0cf80c"/>
<rect x="163" y="527" width="5" height="53" fill="#0cf80c"/>
<rect x="171" y="531" width="5" height="49" fill="#0cf80c"/>
<rect x="179" y="532" width="5" height="48" fill="#0cf80c"/>
<rect x="187" y="536" width="5" height="44" fill="#0cf80c"/>
<rect x="195" y="541" width="5" height="39" fill="#0cf80c"/>
<rect x="203" y="546" width="5" height="34" fill="#0cf80c"/>
<rect x="211" y="554" width="5" height="26" fill="#0cf80c"/>
<rect x="219" y="558" width="5" height="22" fill="#0cf80c"/>
<rect x="227" y="560" width="5" height="20" fill="#0cf80c"/>
<rect x="235" y="556" width="5" height="24" fill="#0cf80c"/>
<rect x="243" y="552" width="5" height="28" fill="#0cf80c"/>
<rect x="251" y="546" width="5" height="34" fill="#0cf80c"/>
<rect x="259" y="543" width="5" height="37" fill="#0cf80c"/>
<rect x="267" y="538" width="5" height="42" fill="#0cf80c"/>
<rect x="275" y="533" width="5" height="47" fill="#0cf80c"/>
<rect x="283" y="523" width="5" height="57" fill="#0cf80c"/>
<rect x="291" y="515" width="5" height="65" fill="#0cf80c"/>
<rect x="299" y="511" width="5" height="69" fill="#0cf80c"/>
<rect x="307" y="510" width="5" height="70" fill="#0cf80c"/>
<rect x="315" y="512" width="5" height="68" fill="#0cf80c"/>
<rect x="323" y="512" width="5" height="68" fill="#0cf80c"/>
<rect x="331" y="510" width="5" height="70" fill="#0cf80c"/>
<rect x="339" y="505" width="5" height="75" fill="#0cf80c"/>
<rect x="347" y="505" width="5" height="75" fill="#0cf80c"/>
<rect x="355" y="507" width="5" height="73" fill="#0cf80c"/>
<rect x="363" y="509" width="5" height="71" fill="#0cf80c"/>
<rect x="371" y="515" width="5" height="65" fill="#0cf80c"/>
<rect x="379" y="514" width="5" height="66" fill="#0cf80c"/>
<rect x="387" y="510" width="5" height="70" fill="#0cf80c"/>
<rect x="395" y="510" width="5" height="70" fill="#0cf80c"/>
<rect x="403" y="511" width="5" height="69" fill="#0cf80c"/>
<rect x="411" y="515" width="5" height="65" fill="#0cf80c"/>
<rect x="419" y="519" width="5" height="61" fill="#0cf80c"/>
<rect x="427" y="525" width="5" height="55" fill="#0cf80c"/>
<rect x="435" y="529" width="5" height="51" fill="#0cf80c"/>
<rect x="443" y="533" width="5" height="47" fill="#0cf80c"/>
<rect x="451" y="534" width="5" height="46" fill="#0cf80c"/>
<rect x="459" y="537" width="5" height="43" fill="#0cf80c"/>
<rect x="467" y="537" width="5" height="43" fill="#0cf80c"/>
<rect x="475" y="538" width="5" height="42" fill="#0cf80c"/>
<rect x="483" y="541" width="5" height="39" fill="#0cf80c"/>
<rect x="491" y="549" width="5" height="31" fill="#0cf80c"/>
<rect x="499" y="549" width="5" height="31" fill="#0cf80c"/>
<rect x="507" y="554" width="5" height="26" fill="#0cf80c"/>
<rect x="515" y="560" width="5" height="20" fill="#0cf80c"/>
<rect x="523" y="568" width="5" height="12" fill="#0cf80c"/>
<rect x="531" y="573" width="5" height="7" fill="#0cf80c"/>
<rect x="539" y="576" width="5" height="4" fill="#0cf80c"/>
<rect x="547" y="574" width="5" height="6" fill="#0cf80c"/>
<rect x="555" y="576" width="5" height="4" fill="#0cf80c"/>
<rect x="563" y="577" width="5" height="3" fill="#0cf80c"/>
<rect x="571" y="573" width="5" height="7" fill="#0cf80c"/>
<rect x="579" y="572" width="5" height="8" fill="#0cf80c"/>
<rect x="587" y="575" width="5" height="5" fill="#0cf80c"/>
<rect x="595" y="578" width="5" height="2" fill="#0cf80c"/>
<rect x="603" y="580" width="5" height="8" fill="#0cf80c"/>
<rect x="611" y="580" width="5" height="19" fill="#0cf80c"/>
<rect x="619" y="580" width="5" height="27" fill="#0cf80c"/>
<rect x="627" y="580" width="5" height="31" fill="#0cf80c"/>
<rect x="635" y="580" width="5" height="33" fill="#0cf80c"/>
<rect x="643" y="580" width="5" height="41" fill="#0cf80c"/>
<rect x="651" y="580" width="5" height="45" fill="#0cf80c"/>
<rect x="659" y="580" width="5" height="48" fill="#0cf80c"/>
<rect x="667" y="580" width="5" height="51" fill="#0cf80c"/>
<rect x="675" y="580" width="5" height="48" fill="#0cf80c"/>
<rect x="683" y="580" width="5" height="48" fill="#0cf80c"/>
<rect x="691" y="580" width="5" height="46" fill="#0cf80c"/>
<rect x="699" y="580" width="5" height="47" fill="#0cf80c"/>
<rect x="707" y="580" width="5" height="45" fill="#0cf80c"/>
<rect x="715" y="580" width="5" height="45" fill="#0cf80c"/>
<rect x="723" y="580" width="5" height="45" fill="#0cf80c"/>
<rect x="731" y="580" width="5" height="38" fill="#0cf80c"/>
<rect x="739" y="580" width="5" height="38" fill="#0cf80c"/>
<rect x="747" y="580" width="5" height="41" fill="#0cf80c"/>
<rect x="755" y="580" width="5" height="50" fill="#0cf80c"/>
<rect x="763" y="580" width="5" height="55" fill="#0cf80c"/>
<rect x="771" y="580" width="5" height="50" fill="#0cf80c"/>
<rect x="779" y="580" width="5" height="46" fill="#0cf80c"/>
<rect x="787" y="580" width="5" height="45" fill="#0cf80c"/>
<rect x="795" y="580" width="5" height="45" fill="#0cf80c"/>
<rect x="803" y="580" width="5" height="46" fill="#0cf80c"/>
<rect x="811" y="580" width="5" height="46" fill="#0cf80c"/>
<rect x="819" y="580" width="5" height="47" fill="#0cf80c"/>
<rect x="827" y="580" width="5" height="39" fill="#0cf80c"/>
<rect x="835" y="580" width="5" height="35" fill="#0cf80c"/>
<rect x="843" y="580" width="5" height="33" fill="#0cf80c"/>
<rect x="851" y="580" width="5" height="32" fill="#0cf80c"/>
<rect x="859" y="580" width="5" height="32" fill="#0cf80c"/>
<rect x="867" y="580" width="5" height="31" fill="#0cf80c"/>
<rect x="875" y="580" width="5" height="30" fill="#0cf80c"/>
<rect x="883" y="580" width="5" height="32" fill="#0cf80c"/>
<rect x="891" y="580" width="5" height="30" fill="#0cf80c"/>
<rect x="899" y="580" width="5" height="31" fill="#0cf80c"/>
<rect x="907" y="580" width="5" height="36" fill="#0cf80c"/>
<rect x="915" y="580" width="5" height="34" fill="#0cf80c"/>
<rect x="923" y="580" width="5" height="36" fill="#0cf80c"/>
<rect x="931" y="580" width="5" height="38" fill="#0cf80c"/>
<rect x="939" y="580" width="5" height="40" fill="#0cf80c"/>
<rect x="947" y="580" width="5" height="38" fill="#0cf80c"/>
<rect x="955" y="580" width="5" height="33" fill="#0cf80c"/>
<rect x="963" y="580" width="5" height="28" fill="#0cf80c"/>
<rect x="971" y="580" width="5" height="25" fill="#0cf80c"/>
<rect x="979" y="580" width="5" height="22" fill="#0cf80c"/>
<rect x="987" y="580" width="5" height="21" fill="#0cf80c"/>
<rect x="995" y="580" width="5" height="20" fill="#0cf80c"/>
<rect x="1003" y="580" width="5" height="19" fill="#0cf80c"/>
<rect x="1011" y="580" width="5" height="20" fill="#0cf80c"/>
<rect x="1019" y="580" width="5" height="14" fill="#0cf80c"/>
<rect x="1027" y="580" width="5" height="11" fill="#0cf80c"/>
<rect x="1035" y="580" width="5" height="11" fill="#0cf80c"/>
<rect x="1043" y="580" width="5" height="12" fill="#0cf80c"/>
<rect x="1051" y="580" width="5" height="15" fill="#0cf80c"/>
<rect x="1059" y="580" width="5" height="20" fill="#0cf80c"/>
<rect x="1067" y="580" width="5" height="24" fill="#0cf80c"/>
<rect x="1075" y="580" width="5" height="30" fill="#0cf80c"/>
<rect x="1083" y="580" width="5" height="33" fill="#0cf80c"/>
<rect x="1091" y="580" width="5" height="32" fill="#0cf80c"/>
<rect x="1099" y="580" width="5" height="31" fill="#0cf80c"/>
<rect x="1107" y="580" width="5" height="31" fill="#0cf80c"/>
<rect x="1115" y="580" width="5" height="40" fill="#0cf80c"/>
<rect x="1123" y="580" width="5" height="48" fill="#0cf80c"/>
<rect x="1131" y="580" width="5" height="51" fill="#0cf80c"/>
<rect x="1139" y="580" width="5" height="52" fill="#0cf80c"/>
<rect x="1147" y="580" width="5" height="53" fill="#0cf80c"/>
<rect x="1155" y="580" width="5" height="55" fill="#0cf80c"/>
<rect x="1163" y="580" width="5" height="56" fill="#0cf80c"/>
<rect x="1171" y="580" width="5" height="60" fill="#0cf80c"/>
<rect x="1179" y="580" width="5" height="59" fill="#0cf80c"/>
<rect x="1187" y="580" width="5" height="59" fill="#0cf80c"/>
<rect x="1195" y="580" width="5" height="57" fill="#0cf80c"/>
<rect x="1203" y="580" width="5" height="56" fill="#0cf80c"/>
<line x1="0" y1="580.5" x2="1532" y2="580.5" stroke="#686868" stroke-width="1" stroke-dasharray="3 3"/>
</g>
</g>
<path d="M5.0 537.8 C6.4 538.6 10.6 540.9 13.5 542.8 C16.4 544.7 19.1 547.1 22.5 549.0 C25.9 550.9 30.0 553.3 33.8 554.3 C37.5 555.2 41.2 554.8 45.0 554.7 C48.8 554.7 52.6 554.8 56.4 554.0 C60.2 553.2 63.8 551.8 67.6 550.2 C71.3 548.6 75.1 546.4 78.9 544.6 C82.7 542.8 86.5 540.9 90.2 539.4 C94.0 537.9 97.7 536.4 101.4 535.6 C105.2 534.9 108.6 535.0 112.7 534.9 C116.8 534.8 121.7 534.8 126.2 534.9 C130.7 535.0 135.3 535.8 139.8 535.6 C144.3 535.4 148.8 534.4 153.3 533.8 C157.8 533.2 162.3 532.7 166.8 532.2 C171.3 531.7 176.2 531.2 180.3 531.0 C184.4 530.8 187.8 530.7 191.6 531.0 C195.4 531.3 199.1 531.8 202.9 532.9 C206.7 534.0 210.4 535.9 214.2 537.4 C217.9 538.9 221.7 540.5 225.4 541.9 C229.2 543.3 232.9 544.6 236.7 545.7 C240.5 546.8 244.2 547.9 248.0 548.6 C251.8 549.4 255.4 549.9 259.2 550.2 C262.9 550.5 267.1 550.5 270.5 550.2 C273.9 549.9 275.8 549.9 279.5 548.4 C283.2 546.9 288.9 543.6 293.0 541.2 C297.1 538.8 300.5 536.2 304.3 534.0 C308.1 531.8 311.8 529.6 315.6 527.7 C319.4 525.8 323.1 524.3 326.9 522.5 C330.6 520.7 334.4 518.9 338.1 517.1 C341.9 515.3 346.4 512.8 349.4 511.6 C352.4 510.4 353.6 510.3 356.0 509.9 C358.4 509.5 360.8 509.3 363.5 509.4 C366.2 509.5 368.6 510.1 372.0 510.3 C375.4 510.5 377.7 510.7 383.8 510.8 C389.9 510.9 401.8 510.2 408.6 510.8 C415.4 511.4 417.3 512.5 424.4 514.2 C431.5 515.9 443.1 518.4 451.4 520.9 C459.7 523.4 466.5 526.5 474.0 529.3 C481.5 532.0 489.7 535.1 496.5 537.4 C503.3 539.7 509.0 540.7 514.6 543.0 C520.2 545.3 525.0 548.7 530.3 551.4 C535.5 554.1 541.2 556.8 546.1 559.2 C551.0 561.6 554.7 563.6 559.6 565.6 C564.5 567.6 570.5 569.6 575.4 571.0 C580.3 572.4 584.9 573.1 589.0 573.9 C593.1 574.6 596.5 574.6 600.2 575.5 C604.0 576.4 607.7 577.8 611.5 579.1 C615.3 580.5 619.0 582.0 622.8 583.6 C626.5 585.2 630.2 586.5 634.0 588.6 C637.8 590.7 641.5 593.7 645.3 596.4 C649.1 599.1 652.8 602.0 656.6 604.8 C660.4 607.5 664.1 610.6 667.9 612.9 C671.6 615.2 675.0 616.8 679.1 618.5 C683.2 620.2 688.4 621.9 692.7 623.0 C697.0 624.1 701.9 624.9 705.0 625.4 C708.1 625.9 707.2 626.2 711.3 626.2 C715.3 626.2 723.7 626.1 729.3 625.7 C734.9 625.3 740.1 624.3 745.0 623.9 C749.9 623.5 754.8 623.4 758.6 623.5 C762.4 623.6 763.1 624.4 767.6 624.6 C772.1 624.8 779.7 624.4 785.7 624.6 C791.7 624.8 797.7 625.2 803.7 625.7 C809.7 626.2 816.4 627.6 821.7 627.3 C827.0 627.0 829.3 625.3 835.3 623.9 C841.3 622.5 850.3 620.6 857.8 619.0 C865.3 617.4 873.9 615.7 880.3 614.5 C886.7 613.3 889.7 612.4 896.1 611.8 C902.5 611.2 913.8 611.0 918.7 611.1 C923.6 611.2 922.4 611.8 925.4 612.2 C928.4 612.6 932.9 612.7 936.7 613.3 C940.5 613.9 943.9 615.2 948.0 615.6 C952.1 616.0 957.0 615.9 961.5 615.6 C966.0 615.3 968.6 615.0 975.0 614.0 C981.4 613.0 993.0 611.1 999.8 609.5 C1006.6 607.9 1010.0 606.2 1015.6 604.3 C1021.2 602.4 1027.6 599.7 1033.6 598.2 C1039.6 596.7 1045.2 595.8 1051.6 595.3 C1058.0 594.8 1065.8 594.5 1071.8 595.3 C1077.8 596.0 1081.6 598.3 1087.6 599.8 C1093.6 601.3 1102.3 602.4 1107.9 604.3 C1113.5 606.2 1116.5 608.8 1121.4 611.1 C1126.3 613.4 1131.6 616.0 1137.2 617.9 C1142.8 619.8 1149.3 620.8 1155.3 622.8 C1161.3 624.8 1168.0 627.9 1173.3 629.8 C1178.5 631.7 1183.0 633.4 1186.8 634.3 C1190.5 635.2 1192.6 635.2 1195.8 635.4 C1199.0 635.6 1204.3 635.4 1206.0 635.4" fill="none" stroke="#e00c0c" stroke-width="3" stroke-linejoin="round" stroke-linecap="butt" clip-path="url(#cd)"/>
<g shape-rendering="crispEdges" fill="#000">
<rect x="4" y="4" width="1528" height="1" fill="#000"/>
<rect x="4" y="495" width="1528" height="1" fill="#000"/>
<rect x="4" y="497" width="1528" height="1" fill="#000"/>
<rect x="4" y="646" width="1528" height="1" fill="#000"/>
<rect x="4" y="4" width="1" height="492" fill="#000"/>
<rect x="4" y="497" width="1" height="150" fill="#000"/>
<rect x="1531" y="4" width="1" height="492" fill="#000"/>
<rect x="1531" y="497" width="1" height="150" fill="#000"/>
<rect x="1532" y="70" width="2" height="1" fill="#000"/>
<rect x="1532" y="135" width="2" height="1" fill="#000"/>
<rect x="1532" y="200" width="2" height="1" fill="#000"/>
<rect x="1532" y="265" width="2" height="1" fill="#000"/>
<rect x="1532" y="330" width="2" height="1" fill="#000"/>
<rect x="1532" y="395" width="2" height="1" fill="#000"/>
<rect x="1532" y="460" width="2" height="1" fill="#000"/>
<rect x="1532" y="499" width="2" height="1" fill="#000"/>
<rect x="1532" y="580" width="2" height="1" fill="#000"/>
<rect x="1532" y="645" width="2" height="1" fill="#000"/>
<rect x="5" y="647" width="1" height="3" fill="#000"/>
<rect x="133" y="647" width="1" height="3" fill="#000"/>
<rect x="261" y="647" width="1" height="3" fill="#000"/>
<rect x="389" y="647" width="1" height="3" fill="#000"/>
<rect x="517" y="647" width="1" height="3" fill="#000"/>
<rect x="645" y="647" width="1" height="3" fill="#000"/>
<rect x="773" y="647" width="1" height="3" fill="#000"/>
<rect x="901" y="647" width="1" height="3" fill="#000"/>
<rect x="1029" y="647" width="1" height="3" fill="#000"/>
<rect x="1157" y="647" width="1" height="3" fill="#000"/>
<polygon points="1216.5,5 1232.5,5 1224.5,13" fill="#778899" shape-rendering="geometricPrecision"/>
</g>
<text x="1537.3" y="401" font-family="'Liberation Sans', Arial, sans-serif" font-size="14" fill="#000" textLength="44.6" lengthAdjust="spacingAndGlyphs">4139.0</text>
<g shape-rendering="crispEdges">
<rect x="1530" y="387" width="4" height="4" fill="#f3a61c"/>
<rect x="1533" y="383" width="54" height="17" fill="#f5a414"/>
<rect x="1533" y="434" width="54" height="17" fill="#000"/>
</g>
<polygon points="8,12 19,12 13.5,18" fill="#000"/>
<text x="1537.85" y="76" font-family="'Liberation Sans', Arial, sans-serif" font-size="14" fill="#000" stroke="#000" stroke-width="0.18" text-anchor="start" textLength="44.07" lengthAdjust="spacingAndGlyphs">4475.0</text>
<text x="1537.85" y="141" font-family="'Liberation Sans', Arial, sans-serif" font-size="14" fill="#000" stroke="#000" stroke-width="0.18" text-anchor="start" textLength="44.07" lengthAdjust="spacingAndGlyphs">4408.0</text>
<text x="1537.85" y="206" font-family="'Liberation Sans', Arial, sans-serif" font-size="14" fill="#000" stroke="#000" stroke-width="0.18" text-anchor="start" textLength="44.07" lengthAdjust="spacingAndGlyphs">4341.0</text>
<text x="1537.85" y="271" font-family="'Liberation Sans', Arial, sans-serif" font-size="14" fill="#000" stroke="#000" stroke-width="0.18" text-anchor="start" textLength="44.07" lengthAdjust="spacingAndGlyphs">4273.0</text>
<text x="1537.85" y="336" font-family="'Liberation Sans', Arial, sans-serif" font-size="14" fill="#000" stroke="#000" stroke-width="0.18" text-anchor="start" textLength="44.07" lengthAdjust="spacingAndGlyphs">4206.0</text>
<text x="1537.85" y="466" font-family="'Liberation Sans', Arial, sans-serif" font-size="14" fill="#000" stroke="#000" stroke-width="0.18" text-anchor="start" textLength="44.07" lengthAdjust="spacingAndGlyphs">4072.0</text>
<text x="1537.85" y="397" font-family="'Liberation Sans', Arial, sans-serif" font-size="14" fill="#fff4cc" stroke="#fff4cc" stroke-width="0.18" text-anchor="start" textLength="43.84" lengthAdjust="spacingAndGlyphs">4145.5</text>
<text x="1537.85" y="448" font-family="'Liberation Sans', Arial, sans-serif" font-size="14" fill="#fff" stroke="#fff" stroke-width="0.18" text-anchor="start" textLength="44.07" lengthAdjust="spacingAndGlyphs">4090.0</text>
<text x="1535.08" y="513" font-family="'Liberation Sans', Arial, sans-serif" font-size="14" fill="#000" stroke="#000" stroke-width="0.18" text-anchor="start" textLength="35.76" lengthAdjust="spacingAndGlyphs">52.93</text>
<text x="1535.2" y="586" font-family="'Liberation Sans', Arial, sans-serif" font-size="14" fill="#000" stroke="#000" stroke-width="0.18" text-anchor="start" textLength="27.65" lengthAdjust="spacingAndGlyphs">0.00</text>
<text x="1535.53" y="642" font-family="'Liberation Sans', Arial, sans-serif" font-size="14" fill="#000" stroke="#000" stroke-width="0.18" text-anchor="start" textLength="40.97" lengthAdjust="spacingAndGlyphs">-42.76</text>
<text x="25.8" y="20.7" font-family="'Liberation Sans', Arial, sans-serif" font-size="14" fill="#000" stroke="#000" stroke-width="0.18" text-anchor="start" textLength="88.73" lengthAdjust="spacingAndGlyphs">CHINA300-,H1</text>
<text x="123.55" y="20.7" font-family="'Liberation Sans', Arial, sans-serif" font-size="14" fill="#000" stroke="#000" stroke-width="0.18" text-anchor="start" textLength="42.43" lengthAdjust="spacingAndGlyphs">4084.5</text>
<text x="171.45" y="20.7" font-family="'Liberation Sans', Arial, sans-serif" font-size="14" fill="#000" stroke="#000" stroke-width="0.18" text-anchor="start" textLength="43.01" lengthAdjust="spacingAndGlyphs">4097.4</text>
<text x="218.94" y="20.7" font-family="'Liberation Sans', Arial, sans-serif" font-size="14" fill="#000" stroke="#000" stroke-width="0.18" text-anchor="start" textLength="43.23" lengthAdjust="spacingAndGlyphs">4077.7</text>
<text x="266.85" y="20.7" font-family="'Liberation Sans', Arial, sans-serif" font-size="14" fill="#000" stroke="#000" stroke-width="0.18" text-anchor="start" textLength="43.82" lengthAdjust="spacingAndGlyphs">4090.0</text>
<text x="8.72" y="514.6" font-family="'Liberation Sans', Arial, sans-serif" font-size="14" fill="#000" stroke="#000" stroke-width="0.18" text-anchor="start" textLength="96.05" lengthAdjust="spacingAndGlyphs">MACD(12,26,9)</text>
<text x="108.91" y="514.6" font-family="'Liberation Sans', Arial, sans-serif" font-size="14" fill="#000" stroke="#000" stroke-width="0.18" text-anchor="start" textLength="40.03" lengthAdjust="spacingAndGlyphs">-35.12</text>
<text x="153.54" y="514.6" font-family="'Liberation Sans', Arial, sans-serif" font-size="14" fill="#000" stroke="#000" stroke-width="0.18" text-anchor="start" textLength="40.39" lengthAdjust="spacingAndGlyphs">-36.13</text>
<text x="4.1" y="664" font-family="'Liberation Sans', Arial, sans-serif" font-size="14" fill="#000" stroke="#000" stroke-width="0.18" text-anchor="start" textLength="77.89" lengthAdjust="spacingAndGlyphs">14 Jun 2022</text>
<text x="131.84" y="664" font-family="'Liberation Sans', Arial, sans-serif" font-size="14" fill="#000" stroke="#000" stroke-width="0.18" text-anchor="start" textLength="83.66" lengthAdjust="spacingAndGlyphs">20 Jun 02:30</text>
<text x="260.11" y="664" font-family="'Liberation Sans', Arial, sans-serif" font-size="14" fill="#000" stroke="#000" stroke-width="0.18" text-anchor="start" textLength="82.93" lengthAdjust="spacingAndGlyphs">24 Jun 02:30</text>
<text x="387.86" y="664" font-family="'Liberation Sans', Arial, sans-serif" font-size="14" fill="#000" stroke="#000" stroke-width="0.18" text-anchor="start" textLength="82.92" lengthAdjust="spacingAndGlyphs">30 Jun 02:30</text>
<text x="516.19" y="664" font-family="'Liberation Sans', Arial, sans-serif" font-size="14" fill="#000" stroke="#000" stroke-width="0.18" text-anchor="start" textLength="68.85" lengthAdjust="spacingAndGlyphs">6 Jul 02:30</text>
<text x="644.49" y="664" font-family="'Liberation Sans', Arial, sans-serif" font-size="14" fill="#000" stroke="#000" stroke-width="0.18" text-anchor="start" textLength="76.24" lengthAdjust="spacingAndGlyphs">12 Jul 02:30</text>
<text x="772.22" y="664" font-family="'Liberation Sans', Arial, sans-serif" font-size="14" fill="#000" stroke="#000" stroke-width="0.18" text-anchor="start" textLength="76.68" lengthAdjust="spacingAndGlyphs">18 Jul 02:30</text>
<text x="900.44" y="664" font-family="'Liberation Sans', Arial, sans-serif" font-size="14" fill="#000" stroke="#000" stroke-width="0.18" text-anchor="start" textLength="76.65" lengthAdjust="spacingAndGlyphs">22 Jul 02:30</text>
<text x="1028.03" y="664" font-family="'Liberation Sans', Arial, sans-serif" font-size="14" fill="#000" stroke="#000" stroke-width="0.18" text-anchor="start" textLength="77.07" lengthAdjust="spacingAndGlyphs">28 Jul 02:30</text>
<text x="1156.37" y="664" font-family="'Liberation Sans', Arial, sans-serif" font-size="14" fill="#000" stroke="#000" stroke-width="0.18" text-anchor="start" textLength="76.3" lengthAdjust="spacingAndGlyphs">3 Aug 02:30</text>
<line x1="473.9" y1="26.8" x2="1346.3" y2="406.1" stroke="#0a0a0a" stroke-width="3.0" stroke-linecap="round"/>
<polygon points="1361.0,412.5 1343.0,411.2 1347.8,400.2" fill="#0a0a0a"/>
<line x1="1208.4" y1="389.2" x2="1270.3" y2="477.4" stroke="#f41016" stroke-width="5.5" stroke-linecap="round"/>
<polygon points="1289.2,504.4 1260.3,483.2 1279.1,470.0" fill="#f41016"/>
</svg>
</body></html>
